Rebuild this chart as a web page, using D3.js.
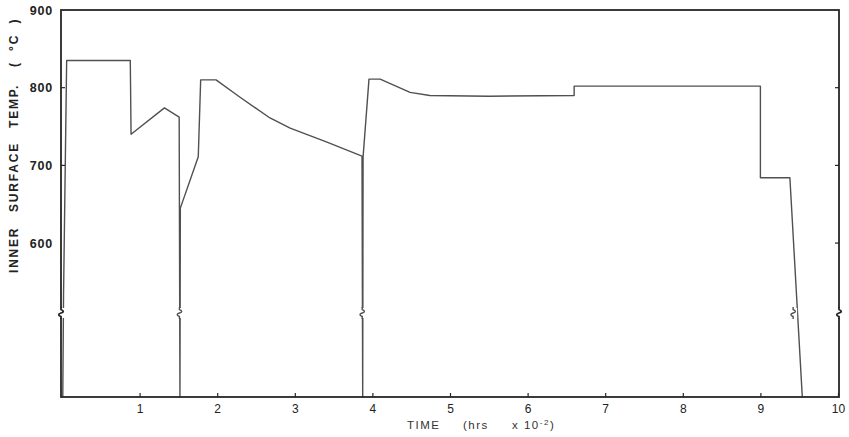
<!DOCTYPE html>
<html>
<head>
<meta charset="utf-8">
<script src="https://cdn.jsdelivr.net/npm/d3@7"></script>
<style>
  html, body { margin: 0; padding: 0; background: #fff; }
  svg { display: block; }
  .tick text { font-family: "Liberation Sans", Arial, sans-serif; fill: #222; }
</style>
</head>
<body>
<svg id="chart" width="849" height="437"></svg>
<script>
// ---- data ----
const AMBIENT = 20;          // value drawn at the bottom (below the axis break)
const BREAK_TEMP = 510;      // axis break position (°C)
const timeHrs = [0.01, 0.02, 0.06, 0.88, 0.89, 1.32, 1.51, 1.52, 1.525, 1.756, 1.787, 1.985,
                 2.29, 2.68, 2.94, 3.415, 3.866, 3.875, 3.88, 3.956, 4.10, 4.485, 4.74,
                 5.50, 6.60, 6.60, 9.00, 9.00, 9.38, 9.54];
const tempC   = [AMBIENT, 535, 835, 835, 740, 774, 762, AMBIENT, 645, 711, 810, 810,
                 788, 761, 748, 730, 712, AMBIENT, 711, 811, 811, 794, 790,
                 789, 790, 802, 802, 684, 684, AMBIENT];
const xTicks = [1, 2, 3, 4, 5, 6, 7, 8, 9, 10];
const yTickLabels = [600, 700, 800, 900];
const yInnerTicksLeft = [700, 800];
const yInnerTicksRight = [600, 700, 800];

// ---- layout ----
const svg = d3.select("#chart");
const L = 61, R = 839, T = 10, B = 397;

const x = d3.scaleLinear().domain([0, 10]).range([62, 838]);
const y = d3.scaleLinear().domain([AMBIENT, BREAK_TEMP, 900]).range([B, 313, T]);

const ink = "#262626";
const lineInk = "#505050";

// data line
const pts = timeHrs.map((t, i) => [t, tempC[i]]);
const line = d3.line().x(d => x(d[0])).y(d => y(d[1]));
svg.append("path").datum(pts)
  .attr("d", line)
  .attr("fill", "none")
  .attr("stroke", lineInk)
  .attr("stroke-width", 1.4)
  .attr("stroke-linejoin", "round");

// frame
svg.append("rect").attr("x", L).attr("y", T).attr("width", R - L).attr("height", B - T)
  .attr("fill", "none").attr("stroke", ink).attr("stroke-width", 1.8);

// x axis (inward ticks)
const xAxis = d3.axisBottom(x).tickValues(xTicks).tickSizeInner(-4).tickSizeOuter(0)
  .tickPadding(7).tickFormat(d3.format("d"));
const gx = svg.append("g").attr("transform", `translate(0,${B})`).call(xAxis);
gx.select(".domain").remove();
gx.selectAll(".tick line").attr("stroke", ink).attr("stroke-width", 1.2);
gx.selectAll(".tick text").attr("font-size", 12).attr("fill", "#333");

// y axis labels (left)
const yAxis = d3.axisLeft(y).tickValues(yTickLabels).tickSize(0).tickPadding(8);
const gy = svg.append("g").attr("transform", `translate(${L},0)`).call(yAxis);
gy.select(".domain").remove();
gy.selectAll(".tick text").attr("font-size", 12.5).attr("font-weight", "bold")
  .attr("letter-spacing", 0.8).attr("fill", "#222");

// left inner ticks
svg.append("g").selectAll("line").data(yInnerTicksLeft).join("line")
  .attr("x1", L).attr("x2", L + 4).attr("y1", d => y(d)).attr("y2", d => y(d))
  .attr("stroke", ink).attr("stroke-width", 1.2);
// right inner ticks
svg.append("g").selectAll("line").data(yInnerTicksRight).join("line")
  .attr("x1", R).attr("x2", R - 4).attr("y1", d => y(d)).attr("y2", d => y(d))
  .attr("stroke", ink).attr("stroke-width", 1.2);

// ---- break symbols ----
const yb = y(BREAK_TEMP);
// find where each data segment crosses the break level
const breakXs = [];
for (let i = 0; i < pts.length - 1; i++) {
  const a = pts[i], b = pts[i + 1];
  if ((a[1] - BREAK_TEMP) * (b[1] - BREAK_TEMP) < 0) {
    const f = (BREAK_TEMP - a[1]) / (b[1] - a[1]);
    const xx = x(a[0] + f * (b[0] - a[0]));
    if (xx > L + 6 && !breakXs.some(v => Math.abs(v - xx) < 4)) breakXs.push(xx);
  }
}
function drawBreak(xx, col, w) {
  svg.append("rect").attr("x", xx - 4).attr("y", yb - 5).attr("width", 8).attr("height", 10)
    .attr("fill", "#fff");
  svg.append("path")
    .attr("d", `M${xx},${yb - 6} L${xx},${yb - 3.5} Q${xx + 4.5},${yb - 1.5} ${xx},${yb} Q${xx - 4.5},${yb + 1.5} ${xx},${yb + 3.5} L${xx},${yb + 6}`)
    .attr("fill", "none").attr("stroke", col).attr("stroke-width", w);
}
breakXs.forEach(v => drawBreak(v, lineInk, 1.4));
drawBreak(L, ink, 1.8);
drawBreak(R, ink, 1.8);

// ---- axis titles ----
const font = '"Liberation Sans", Arial, sans-serif';
const yWords = [["INNER", 273], ["SURFACE", 212], ["TEMP.", 128], ["(  °C  )", 67]];
yWords.forEach(([w, pos]) => {
  svg.append("text").text(w)
    .attr("transform", `translate(18,${pos}) rotate(-90)`)
    .attr("font-family", font).attr("font-size", 12).attr("font-weight", "bold")
    .attr("letter-spacing", 1.8).attr("fill", "#222")
    .attr("xml:space", "preserve").style("white-space", "pre");
});

const xt = svg.append("text").attr("y", 429).attr("font-family", font)
  .attr("font-size", 11.5).attr("fill", "#333").attr("letter-spacing", 1.5)
  .style("white-space", "pre");
xt.append("tspan").attr("x", 407).text("TIME");
xt.append("tspan").attr("x", 463).text("(hrs");
xt.append("tspan").attr("x", 512).text("x 10");
xt.append("tspan").attr("dy", -4).attr("font-size", 8).text("-2");
xt.append("tspan").attr("dy", 4).text(")");
</script>
</body>
</html>
